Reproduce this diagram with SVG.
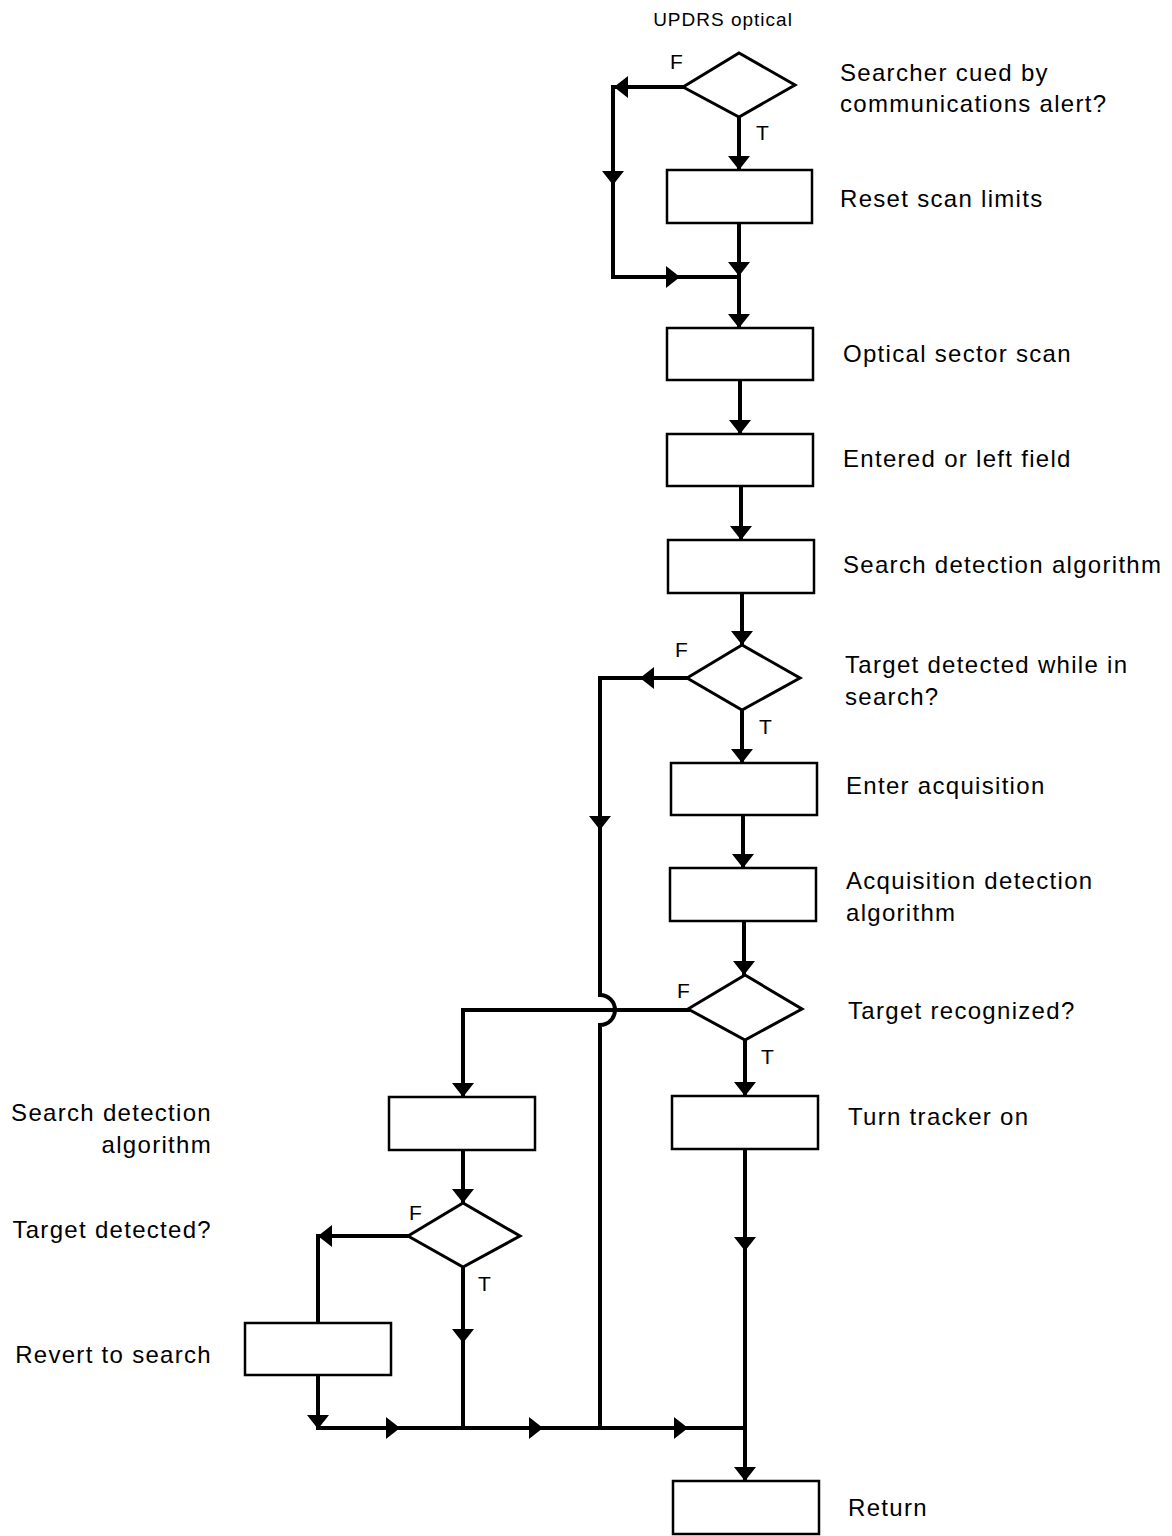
<svg xmlns="http://www.w3.org/2000/svg" xmlns:xlink="http://www.w3.org/1999/xlink" width="1172" height="1536" viewBox="0 0 1172 1536">
  <style>
    .bg { fill: #ffffff; }
    .box { fill: #ffffff; stroke: #000; stroke-width: 2.5; }
    .dia { fill: #ffffff; stroke: #000; stroke-width: 3; stroke-linejoin: miter; }
    .ln { fill: none; stroke: #000; stroke-width: 4; stroke-linecap: square; stroke-linejoin: miter; }
    .lbl { font-family: "Liberation Sans", Arial, sans-serif; font-size: 24px; letter-spacing: 1.3px; fill: #000; }
    .tf { font-family: "Liberation Sans", Arial, sans-serif; font-size: 21px; fill: #000; }
    .ttl { font-family: "Liberation Sans", Arial, sans-serif; font-size: 19px; letter-spacing: 1px; fill: #000; }
    .ah { fill: #000; }
  </style>
  <defs>
    <!-- arrowhead pointing down, tip at origin -->
    <path id="ad" class="ah" d="M0,0 L-11,-14 L11,-14 Z"/>
    <!-- arrowhead pointing right, tip at origin -->
    <path id="ar" class="ah" d="M0,0 L-14,-11 L-14,11 Z"/>
    <!-- arrowhead pointing left, tip at origin -->
    <path id="al" class="ah" d="M0,0 L14,-11 L14,11 Z"/>
  </defs>

  <rect class="bg" x="0" y="0" width="1172" height="1536"/>

  <text class="ttl" x="723" y="26" text-anchor="middle">UPDRS optical</text>

  <!-- connectors -->
  <g id="connectors">
    <!-- decision 1 -->
    <path class="ln" d="M739,117 V168"/>
    <path class="ln" d="M683,87 H613 V277 H739"/>
    <path class="ln" d="M739,223 V326"/>
    <use xlink:href="#ad" x="739" y="170"/>
    <use xlink:href="#al" x="614" y="87"/>
    <use xlink:href="#ad" x="613" y="185"/>
    <use xlink:href="#ar" x="680" y="277"/>
    <use xlink:href="#ad" x="739" y="276"/>
    <use xlink:href="#ad" x="739" y="328"/>

    <!-- main spine -->
    <path class="ln" d="M740,380 V432"/>
    <use xlink:href="#ad" x="740" y="434"/>
    <path class="ln" d="M741,486 V538"/>
    <use xlink:href="#ad" x="741" y="540"/>
    <path class="ln" d="M742,593 V643"/>
    <use xlink:href="#ad" x="742" y="645"/>

    <!-- decision 2 -->
    <path class="ln" d="M742,710 V761"/>
    <use xlink:href="#ad" x="742" y="763"/>
    <path class="ln" d="M687,678 H600 V995 A15,15 0 0 1 600,1025 V1428"/>
    <use xlink:href="#al" x="640" y="678"/>
    <use xlink:href="#ad" x="600" y="830"/>

    <path class="ln" d="M743,815 V866"/>
    <use xlink:href="#ad" x="743" y="868"/>
    <path class="ln" d="M744,921 V973"/>
    <use xlink:href="#ad" x="744" y="975"/>

    <!-- decision 3 -->
    <path class="ln" d="M745,1040 V1094"/>
    <use xlink:href="#ad" x="745" y="1096"/>
    <path class="ln" d="M688,1010 H463 V1095"/>
    <use xlink:href="#ad" x="463" y="1097"/>

    <!-- tracker to return -->
    <path class="ln" d="M745,1149 V1479"/>
    <use xlink:href="#ad" x="745" y="1251"/>
    <use xlink:href="#ad" x="745" y="1481"/>

    <!-- left branch -->
    <path class="ln" d="M463,1150 V1201"/>
    <use xlink:href="#ad" x="463" y="1203"/>
    <path class="ln" d="M408,1236 H318 V1323"/>
    <use xlink:href="#al" x="318" y="1236"/>
    <path class="ln" d="M463,1267 V1428"/>
    <use xlink:href="#ad" x="463" y="1343"/>
    <path class="ln" d="M318,1375 V1428 H745"/>
    <use xlink:href="#ad" x="318" y="1429"/>
    <use xlink:href="#ar" x="400" y="1428"/>
    <use xlink:href="#ar" x="543" y="1428"/>
    <use xlink:href="#ar" x="688" y="1428"/>
  </g>

  <!-- decisions -->
  <g id="d1">
    <polygon class="dia" points="683,87 739,53 795,85 739,117"/>
    <text class="tf" x="670" y="69">F</text>
    <text class="tf" x="756" y="140">T</text>
    <text class="lbl" x="840" y="81">Searcher cued by</text>
    <text class="lbl" x="840" y="112">communications alert?</text>
  </g>
  <g id="d2">
    <polygon class="dia" points="687,678 742,645 800,678 742,710"/>
    <text class="tf" x="675" y="657">F</text>
    <text class="tf" x="759" y="734">T</text>
    <text class="lbl" x="845" y="673">Target detected while in</text>
    <text class="lbl" x="845" y="705">search?</text>
  </g>
  <g id="d3">
    <polygon class="dia" points="688,1009 745,975 802,1009 745,1040"/>
    <text class="tf" x="677" y="998">F</text>
    <text class="tf" x="761" y="1064">T</text>
    <text class="lbl" x="848" y="1019">Target recognized?</text>
  </g>
  <g id="d4">
    <polygon class="dia" points="408,1236 463,1203 520,1236 463,1267"/>
    <text class="tf" x="409" y="1220">F</text>
    <text class="tf" x="478" y="1291">T</text>
    <text class="lbl" x="212" y="1238" text-anchor="end">Target detected?</text>
  </g>

  <!-- process boxes -->
  <g id="b1">
    <rect class="box" x="667" y="170" width="145" height="53"/>
    <text class="lbl" x="840" y="207">Reset scan limits</text>
  </g>
  <g id="b2">
    <rect class="box" x="667" y="328" width="146" height="52"/>
    <text class="lbl" x="843" y="362">Optical sector scan</text>
  </g>
  <g id="b3">
    <rect class="box" x="667" y="434" width="146" height="52"/>
    <text class="lbl" x="843" y="467">Entered or left field</text>
  </g>
  <g id="b4">
    <rect class="box" x="668" y="540" width="146" height="53"/>
    <text class="lbl" x="843" y="573">Search detection algorithm</text>
  </g>
  <g id="b5">
    <rect class="box" x="671" y="763" width="146" height="52"/>
    <text class="lbl" x="846" y="794">Enter acquisition</text>
  </g>
  <g id="b6">
    <rect class="box" x="670" y="868" width="146" height="53"/>
    <text class="lbl" x="846" y="889">Acquisition detection</text>
    <text class="lbl" x="846" y="921">algorithm</text>
  </g>
  <g id="b7">
    <rect class="box" x="389" y="1097" width="146" height="53"/>
    <text class="lbl" x="212" y="1121" text-anchor="end">Search detection</text>
    <text class="lbl" x="212" y="1153" text-anchor="end">algorithm</text>
  </g>
  <g id="b8">
    <rect class="box" x="672" y="1096" width="146" height="53"/>
    <text class="lbl" x="848" y="1125">Turn tracker on</text>
  </g>
  <g id="b9">
    <rect class="box" x="245" y="1323" width="146" height="52"/>
    <text class="lbl" x="212" y="1363" text-anchor="end">Revert to search</text>
  </g>
  <g id="b10">
    <rect class="box" x="673" y="1481" width="146" height="53"/>
    <text class="lbl" x="848" y="1516">Return</text>
  </g>
</svg>
